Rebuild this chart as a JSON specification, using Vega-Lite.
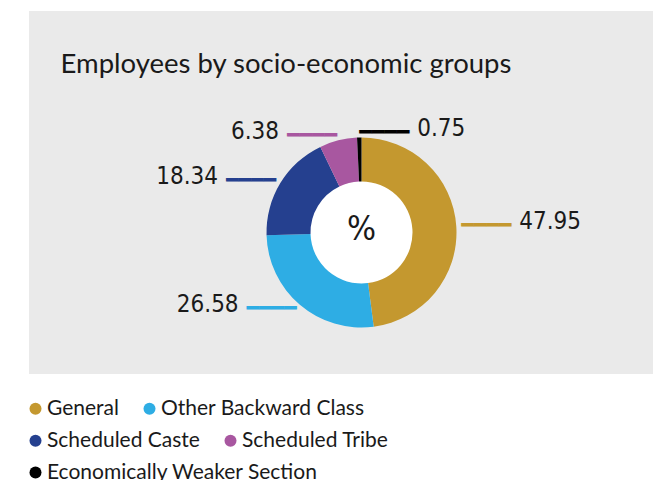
{
  "$schema": "https://vega.github.io/schema/vega-lite/v6.json",
  "background": "white",
  "padding": {"left": 29, "top": 11, "right": 15, "bottom": 0},
  "config": {
    "view": {"stroke": null, "fill": "#EAEAEA"},
    "legend": {
      "orient": "none",
      "direction": "horizontal",
      "padding": 0,
      "labelFont": "Lato",
      "labelFontSize": 21,
      "labelColor": "#1a1a1a",
      "labelLimit": 400,
      "symbolType": "circle",
      "symbolSize": 144,
      "symbolStrokeWidth": 0,
      "symbolOpacity": 1,
      "symbolOffset": -4,
      "labelOffset": 1,
      "columnPadding": 24
    }
  },
  "vconcat": [
    {
      "hconcat": [
        {
          "width": 514,
          "height": 80,
          "view": {"stroke": null, "fill": "#EAEAEA"},
          "data": {"values": [{"Title": "Employees by socio-economic groups"}]},
          "mark": {"type": "text", "font": "Lato", "fontSize": 27.5, "color": "#1a1a1a", "align": "center", "baseline": "top"},
          "encoding": {"text": {"field": "Title"}}
        },
        {
          "width": 110,
          "height": 80,
          "view": {"stroke": null, "fill": "#EAEAEA"},
          "data": {"values": [{"Title": ""}]},
          "mark": {"type": "text"},
          "encoding": {"text": {"field": "Title"}}
        }
      ],
      "spacing": 0
    },
    {
      "hconcat": [
        {
          "width": 41,
          "height": 283,
          "view": {"stroke": null, "fill": "#EAEAEA"},
          "data": {"values": [{"Title": ""}]},
          "mark": {"type": "text"},
          "encoding": {"text": {"field": "Title"}}
        },
        {
          "width": 583,
          "height": 283,
          "view": {"stroke": null, "fill": "#EAEAEA"},
          "data": {
            "values": [
              {"Group": "General", "Share": 47.95},
              {"Group": "Other Backward Class", "Share": 26.58},
              {"Group": "Scheduled Caste", "Share": 18.34},
              {"Group": "Scheduled Tribe", "Share": 6.38},
              {"Group": "Economically Weaker Section", "Share": 0.75}
            ]
          },
          "resolve": {"scale": {"color": "independent"}, "legend": {"color": "independent"}},
          "layer": [
            {
              "data": {"values": [{"Unit": "%"}]},
              "mark": {"type": "point", "filled": true, "color": "white", "opacity": 1, "size": 10816, "strokeWidth": 0},
              "encoding": {}
            },
            {
              "transform": [
                {"stack": "Share", "groupby": [], "sort": [{"field": "Share", "order": "descending"}], "as": ["Start", "End"]},
                {"filter": {"field": "Group", "oneOf": ["General", "Other Backward Class"]}}
              ],
              "mark": {"type": "arc", "outerRadius": 95, "innerRadius": 51},
              "encoding": {
                "theta": {"field": "Start", "type": "quantitative"},
                "theta2": {"field": "End"},
                "color": {
                  "field": "Group",
                  "type": "nominal",
                  "title": null,
                  "scale": {"domain": ["General", "Other Backward Class"], "range": ["#C4982F", "#2EADE4"]},
                  "legend": {"legendX": -41, "legendY": 307}
                }
              }
            },
            {
              "transform": [
                {"stack": "Share", "groupby": [], "sort": [{"field": "Share", "order": "descending"}], "as": ["Start", "End"]},
                {"filter": {"field": "Group", "oneOf": ["Scheduled Caste", "Scheduled Tribe"]}}
              ],
              "mark": {"type": "arc", "outerRadius": 95, "innerRadius": 51},
              "encoding": {
                "theta": {"field": "Start", "type": "quantitative"},
                "theta2": {"field": "End"},
                "color": {
                  "field": "Group",
                  "type": "nominal",
                  "title": null,
                  "scale": {"domain": ["Scheduled Caste", "Scheduled Tribe"], "range": ["#25408F", "#A857A0"]},
                  "legend": {"legendX": -41, "legendY": 339}
                }
              }
            },
            {
              "transform": [
                {"stack": "Share", "groupby": [], "sort": [{"field": "Share", "order": "descending"}], "as": ["Start", "End"]},
                {"filter": {"field": "Group", "oneOf": ["Economically Weaker Section"]}}
              ],
              "mark": {"type": "arc", "outerRadius": 95, "innerRadius": 51},
              "encoding": {
                "theta": {"field": "Start", "type": "quantitative"},
                "theta2": {"field": "End"},
                "color": {
                  "field": "Group",
                  "type": "nominal",
                  "title": null,
                  "scale": {"domain": ["Economically Weaker Section"], "range": ["#000000"]},
                  "legend": {"legendX": -41, "legendY": 371}
                }
              }
            },
            {
              "mark": {
                "type": "text",
                "text": "━━━━",
                "font": "DejaVu Sans Mono",
                "fontSize": 20.8,
                "radius": 100,
                "baseline": "middle",
                "align": {"expr": "datum.Group == 'General' || datum.Group == 'Economically Weaker Section' ? 'left' : 'right'"}
              },
              "encoding": {
                "theta": {"field": "Share", "type": "quantitative", "stack": true},
                "order": {"field": "Share", "sort": "descending"},
                "color": {
                  "field": "Group",
                  "type": "nominal",
                  "legend": null,
                  "scale": {
                    "domain": ["General", "Other Backward Class", "Scheduled Caste", "Scheduled Tribe", "Economically Weaker Section"],
                    "range": ["#C4982F", "#2EADE4", "#25408F", "#A857A0", "#000000"]
                  }
                }
              }
            },
            {
              "mark": {
                "type": "text",
                "font": "DejaVu Sans Condensed",
                "fontSize": 24,
                "color": "#1a1a1a",
                "radius": 100,
                "baseline": "alphabetic",
                "dy": 3,
                "align": {"expr": "datum.Group == 'General' || datum.Group == 'Economically Weaker Section' ? 'left' : 'right'"},
                "dx": {"expr": "datum.Group == 'General' || datum.Group == 'Economically Weaker Section' ? 58 : -58"}
              },
              "encoding": {
                "theta": {"field": "Share", "type": "quantitative", "stack": true},
                "order": {"field": "Share", "sort": "descending"},
                "detail": {"field": "Group", "type": "nominal"},
                "text": {"field": "Share", "type": "quantitative", "format": ".2f"}
              }
            },
            {
              "data": {"values": [{"Unit": "%"}]},
              "mark": {"type": "text", "font": "DejaVu Sans Condensed", "fontSize": 34, "color": "#1a1a1a", "baseline": "middle", "align": "center", "dy": -3},
              "encoding": {"text": {"field": "Unit"}}
            }
          ]
        }
      ],
      "spacing": 0,
      "bounds": "flush"
    }
  ],
  "spacing": 0
}
